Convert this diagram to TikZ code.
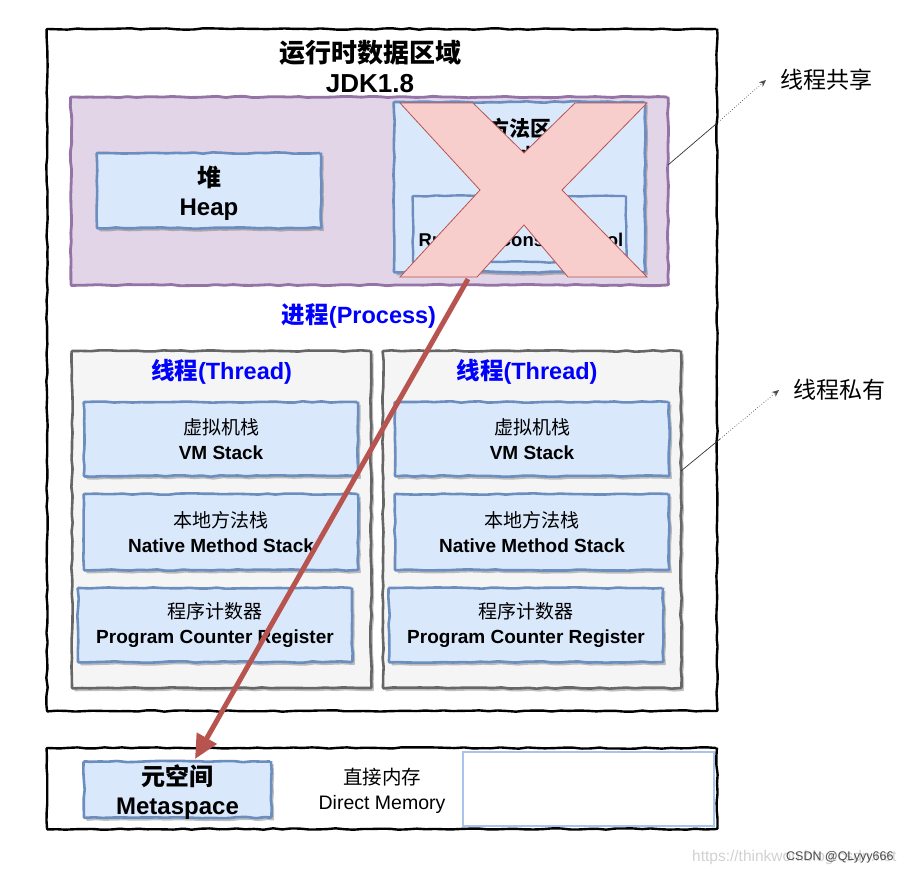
\documentclass[tikz,border=0pt]{standalone}
\usepackage{fontspec}
\setmainfont{Liberation Sans}
\newfontfamily\cjk{Noto Sans CJK SC}
\usetikzlibrary{decorations.pathmorphing,shadows,arrows.meta,calc}
\definecolor{purpleF}{HTML}{E1D5E7}
\definecolor{purpleD}{HTML}{9673A6}
\definecolor{blueF}{HTML}{DAE8FC}
\definecolor{blueD}{HTML}{6C8EBF}
\definecolor{greyF}{HTML}{F5F5F5}
\definecolor{greyD}{HTML}{666666}
\definecolor{redF}{HTML}{F8CECC}
\definecolor{redD}{HTML}{B85450}
\definecolor{txtBlue}{HTML}{0000FF}
\definecolor{lightBorder}{HTML}{A9C4EB}
\pgfmathsetseed{7}
\begin{document}
\begin{tikzpicture}[x=1pt,y=-1pt,
  sk/.style={decorate,decoration={random steps,segment length=9pt,amplitude=0.7pt},rounded corners=0.8pt},
  shad/.style={drop shadow={shadow xshift=2.5pt,shadow yshift=-3pt,opacity=0.35,fill=black!70}},
  frame/.style={sk,draw=black,line width=2.4pt,fill=white,inner sep=0pt},
  purplebox/.style={sk,draw=purpleD,fill=purpleF,line width=2.8pt,inner sep=0pt},
  bluebox/.style={sk,shad,draw=blueD,fill=blueF,line width=2.6pt,inner sep=0pt,align=center},
  threadbox/.style={sk,shad,draw=greyD,fill=greyF,line width=2.6pt,inner sep=0pt},
  txt/.style={inner sep=0pt,align=center},
  hint/.style={draw=black!80,line width=0.7pt},
  hintdot/.style={draw=black!70,line width=0.7pt,dotted,-{Stealth[length=7pt,width=6pt]}}
]
\useasboundingbox (0,0) rectangle (910,873);

% outer runtime data area
\node[frame,minimum width=670pt,minimum height=682pt] (outer) at (382,370) {};
\node[txt,font=\fontsize{26}{30}\selectfont\bfseries] (title) at (370,66.5)
  {{\cjk 运行时数据区域}\\JDK1.8};

% shared area
\node[purplebox,minimum width=597pt,minimum height=188pt] (shared) at (369.5,191) {};
\node[bluebox,minimum width=224pt,minimum height=75pt] (heap) at (209,190.5) {};
\node[txt,font=\fontsize{24}{29}\selectfont\bfseries] (heaptxt) at (209,193.5) {{\cjk 堆}\\Heap};
\node[bluebox,minimum width=251pt,minimum height=170pt] (method) at (519.5,187) {};
\node[txt,font=\fontsize{21}{25}\selectfont\bfseries] (methodtxt) at (520,140) {{\cjk 方法区}\\Method Area};
\node[sk,draw=blueD,fill=blueF,line width=2.4pt,inner sep=0pt,minimum width=213pt,minimum height=66pt] (rcp) at (519.5,229) {};
\node[txt,font=\fontsize{18.5}{22}\selectfont\bfseries] (rcptxt) at (521,240) {Runtime Constant Pool};

% cross over the method area
\draw[fill=redF,draw=redD,line width=0.8pt]
  (400,103) -- (473,103) -- (524,153) -- (575,103) -- (647,103) -- (562,190)
  -- (647,277) -- (568,277) -- (524,225) -- (477,277) -- (400,277) -- (480,190) -- cycle;

% process label
\node[txt,text=txtBlue,font=\fontsize{23.5}{28}\selectfont\bfseries] (process) at (359,316) {{\cjk 进程}(Process)};

% threads
\node[threadbox,minimum width=299pt,minimum height=337pt] (t1) at (221.5,519.5) {};
\node[threadbox,minimum width=298pt,minimum height=337pt] (t2) at (532,519.5) {};
\node[txt,text=txtBlue,font=\fontsize{23.5}{28}\selectfont\bfseries] (t1title) at (221.5,372) {{\cjk 线程}(Thread)};
\node[txt,text=txtBlue,font=\fontsize{23.5}{28}\selectfont\bfseries] (t2title) at (527,372) {{\cjk 线程}(Thread)};

\tikzset{inner/.style={bluebox,font=\fontsize{19}{24.5}\selectfont,minimum width=274pt}}
\node[inner,minimum height=74pt] (vm1) at (221,439) {{\cjk 虚拟机栈}\\\textbf{VM Stack}};
\node[inner,minimum height=76pt] (nm1) at (221,532) {{\cjk 本地方法栈}\\\textbf{Native Method Stack}};
\node[inner,minimum height=74pt] (pc1) at (215,625) {{\cjk 程序计数器}\\\textbf{Program Counter Register}};
\node[inner,minimum height=74pt] (vm2) at (532,439) {{\cjk 虚拟机栈}\\\textbf{VM Stack}};
\node[inner,minimum height=76pt] (nm2) at (532,532) {{\cjk 本地方法栈}\\\textbf{Native Method Stack}};
\node[inner,minimum height=74pt] (pc2) at (526,625) {{\cjk 程序计数器}\\\textbf{Program Counter Register}};

% bottom: metaspace & direct memory
\node[frame,minimum width=670pt,minimum height=81pt] (bottom) at (382,788.5) {};
\node[bluebox,minimum width=187pt,minimum height=56pt] (meta) at (177.5,789.5) {};
\node[txt,font=\fontsize{24}{29}\selectfont\bfseries] (metatxt) at (177.5,792) {{\cjk 元空间}\\Metaspace};
\node[txt,font=\fontsize{19.5}{25}\selectfont] (direct) at (382,791) {{\cjk 直接内存}\\Direct Memory};
\node[draw=lightBorder,fill=white,line width=1.4pt,inner sep=0pt,minimum width=251pt,minimum height=74pt] (dmbox) at (588.5,789) {};

% side labels
\node[txt,anchor=west,font=\fontsize{23}{26}\selectfont\cjk] (sharedlbl) at (780,80) {线程共享};
\node[txt,anchor=west,font=\fontsize{23}{26}\selectfont\cjk] (privlbl) at (793,390) {线程私有};
\coordinate (s1) at (668,165);
\coordinate (s2) at (716,124);
\coordinate (s3) at (766,80);
\draw[hint] (s1) -- (s2);
\draw[hintdot] (s2) -- (s3);
\coordinate (p1) at (681,471);
\coordinate (p2) at (720,439);
\coordinate (p3) at (779,390);
\draw[hint] (p1) -- (p2);
\draw[hintdot] (p2) -- (p3);

% red arrow from method area to metaspace
\coordinate (arrS) at (468,279);
\coordinate (arrE) at (195,759);
\draw[redD,line width=5pt,-{Triangle[length=24pt,width=22pt]}] (arrS) -- (arrE);

% watermark
\node[txt,anchor=west,text=black!18,font=\fontsize{15.5}{18}\selectfont] (url) at (692,857) {https://thinkwon.blog.csdn.net};
\node[txt,anchor=west,text=black!70,font=\fontsize{12.5}{15}\selectfont] (csdn) at (786,857) {CSDN @QLyyy666};
\end{tikzpicture}
\end{document}
